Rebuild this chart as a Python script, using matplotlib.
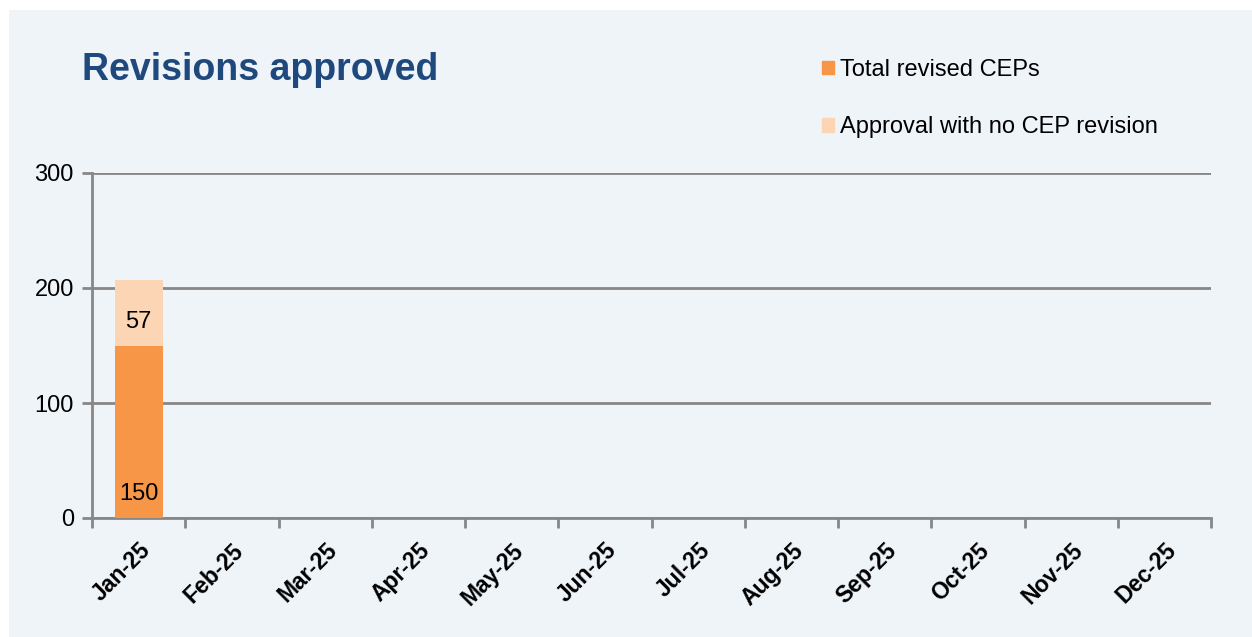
import matplotlib.pyplot as plt
from matplotlib.patches import Rectangle, Patch
from matplotlib.transforms import ScaledTranslation
import numpy as np

# Data
months = ['Jan-25', 'Feb-25', 'Mar-25', 'Apr-25', 'May-25', 'Jun-25',
          'Jul-25', 'Aug-25', 'Sep-25', 'Oct-25', 'Nov-25', 'Dec-25']
revised = [150, 0, 0, 0, 0, 0, 0, 0, 0, 0, 0, 0]
no_revision = [57, 0, 0, 0, 0, 0, 0, 0, 0, 0, 0, 0]

plt.rcParams['font.family'] = ['Liberation Sans', 'DejaVu Sans']

bg = '#EFF4F9'
grey = '#878787'
c_rev = '#F79646'
c_norev = '#FCD5B5'

fig = plt.figure(figsize=(12.52, 6.37), dpi=100)
fig.patches.append(Rectangle((9 / 1252, 0), 1, 1 - 10 / 637, transform=fig.transFigure,
                             facecolor=bg, edgecolor='none', zorder=-5))

ax = fig.add_axes([92 / 1252, 1 - 518 / 637, (1211 - 92) / 1252, (518 - 173) / 637])
ax.set_facecolor('none')
ax.set_zorder(2)

x = np.arange(len(months)) + 0.5
w = 0.515
ax.bar(x, revised, w, color=c_rev, label='Total revised CEPs', zorder=3)
ax.bar(x, no_revision, w, bottom=revised, color=c_norev,
       label='Approval with no CEP revision', zorder=3)

# data labels
for xi, r, n in zip(x, revised, no_revision):
    if r:
        ax.annotate(str(r), (xi, 0), xytext=(0, 9), textcoords='offset points',
                    ha='center', va='bottom', fontsize=17, zorder=4)
    if n:
        ax.annotate(str(n), (xi, r + n / 2), xytext=(0, -7), textcoords='offset points',
                    ha='center', va='center', fontsize=17, zorder=4)

ax.set_xlim(0, 12)
ax.set_ylim(0, 300)
ax.set_yticks([0, 100, 200, 300])
ax.yaxis.grid(True, color=grey, linewidth=2, zorder=1)
ax.set_axisbelow(True)

ax.set_xticks(np.arange(13), minor=True)
ax.set_xticks(x)
ax.set_xticklabels(months, rotation=45, ha='right', rotation_mode='anchor',
                   fontsize=16.5, fontweight='bold')
shift = ScaledTranslation(-5 / 100, 0, fig.dpi_scale_trans)
for lab in ax.get_xticklabels():
    lab.set_transform(lab.get_transform() + shift)
ax.tick_params(axis='x', which='major', length=0, pad=15)
ax.tick_params(axis='x', which='minor', length=7, width=2, color=grey)
ax.tick_params(axis='y', length=7, width=2, color=grey, labelsize=17, pad=6)

for s in ['top', 'right']:
    ax.spines[s].set_visible(False)
for s in ['left', 'bottom']:
    ax.spines[s].set_color(grey)
    ax.spines[s].set_linewidth(2)

fig.text(82 / 1252, 1 - 70 / 637, 'Revisions approved', fontsize=27, fontweight='bold',
         color='#1F497D', va='center', ha='left')

handles = [Patch(color=c_rev), Patch(color=c_norev)]
fig.legend(handles, ['Total revised CEPs', 'Approval with no CEP revision'],
           loc='upper left', bbox_to_anchor=(810 / 1252, 1 - 47 / 637),
           frameon=False, fontsize=17, handlelength=0.5, handleheight=0.5,
           handletextpad=0.25, labelspacing=1.5, borderpad=0)

fig.savefig('out.png', dpi=100)
